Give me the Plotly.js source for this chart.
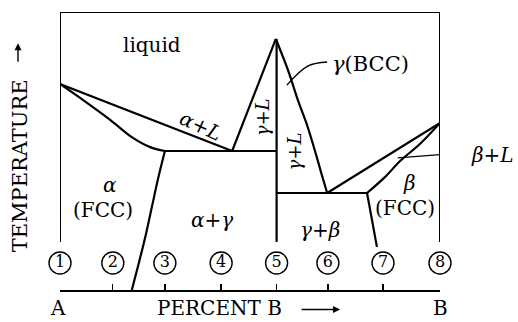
<!DOCTYPE html>
<html>
<head>
<meta charset="utf-8">
<script src="https://cdn.plot.ly/plotly-3.0.1.min.js"></script>
<style>
  html, body { margin: 0; padding: 0; background: #fff; }
  #phase { width: 518px; height: 322px; }
</style>
</head>
<body>
<div id="phase"></div>
<script>
// composition in % B, temperature in arbitrary units (0 = bottom axis, 100 = top of frame)

// frame of the diagram
var frameX = [0, 0, 100, 100];
var frameT = [17.3, 100, 100, 17.3];

// A-rich side: alpha liquidus, solidus, solvus
var liqAX = [0, 45.3];
var liqAT = [74.1, 50];
var solAX = [0, 6.1, 13.2, 19.2, 23.7, 27.6];
var solAT = [74.1, 68.3, 61.2, 54.7, 51.4, 50];
var solvAX = [27.6, 25.8, 24.2, 22.6, 20.8, 18.9];
var solvAT = [50, 40, 30, 20, 10, 0];
var periX = [27.6, 57];
var periT = [50, 50];

// gamma (intermediate compound)
var liqGLX = [45.3, 56.8];
var liqGLT = [50, 90.3];
var gammaX = [57, 57];
var gammaT = [90.3, 17.3];
var liqGRX = [56.8, 60.0, 62.6, 65.0, 67.4, 68.9, 70.3];
var liqGRT = [90.3, 79.1, 68.3, 59.4, 48.6, 41.4, 34.9];
var eutX = [57, 80.8];
var eutT = [34.9, 34.9];

// B-rich side: beta liquidus, solidus, solvus
var liqBX = [70.3, 100];
var liqBT = [34.9, 60.1];
var solBX = [80.8, 85.5, 89.5, 94.7, 100];
var solBT = [34.9, 40.6, 46.4, 52.5, 60.1];
var solvBX = [80.8, 82.1, 83.4];
var solvBT = [34.9, 25.2, 15.5];

// leader lines for the labels
var leadGX = [70.3, 65.3, 59.7];
var leadGT = [82.0, 80.6, 73.7];
var leadBX = [88.9, 105.8];
var leadBT = [47.5, 49.3];

// alloy positions 1..8
var alloyX = [0, 13.9, 27.6, 42.4, 57, 70.5, 85, 100];
var alloyNum = ['1', '2', '3', '4', '5', '6', '7', '8'];
var alloyT = 9.7;

function line(x, y, w, shape) {
    return {x: x, y: y, type: 'scatter', mode: 'lines', cliponaxis: false,
            line: {color: '#000', width: w || 2.2, shape: shape || 'linear'}, hoverinfo: 'skip'};
}

var data = [
    line(frameX, frameT, 2),
    line(liqAX, liqAT),
    line(solAX, solAT, 2.2, 'spline'),
    line(solvAX, solvAT, 2.2, 'spline'),
    line(periX, periT),
    line(liqGLX, liqGLT),
    line(gammaX, gammaT),
    line(liqGRX, liqGRT, 2.2, 'spline'),
    line(eutX, eutT),
    line(liqBX, liqBT),
    line(solBX, solBT, 2.2, 'spline'),
    line(solvBX, solvBT),
    line(leadGX, leadGT, 1.4, 'spline'),
    line(leadBX, leadBT, 1.2),
    {x: alloyX, y: alloyX.map(function () { return alloyT; }), text: alloyNum,
     type: 'scatter', mode: 'markers+text', cliponaxis: false,
     marker: {symbol: 'circle-open', size: 22, color: '#000', line: {width: 1.4}},
     textposition: 'middle center',
     textfont: {family: 'DejaVu Serif', size: 16, color: '#000'}}
];

function font(size) {
    return {family: 'DejaVu Serif', size: size || 20, color: '#000'};
}
// x in % B, y in temperature units; both ranges are 0..100 so paper = value / 100
function lab(x, y, text, extra) {
    var a = {x: x / 100, y: y / 100, xref: 'paper', yref: 'paper', text: text,
             xanchor: 'center', yanchor: 'middle', showarrow: false, font: font()};
    for (var k in extra) a[k] = extra[k];
    return a;
}
function arrow(x, y, ax, ay) {
    return {x: x / 100, y: y / 100, xref: 'paper', yref: 'paper', ax: ax, ay: ay, text: '',
            xanchor: 'center', yanchor: 'middle',
            showarrow: true, arrowhead: 2, arrowsize: 1, arrowwidth: 1.4, arrowcolor: '#000'};
}

var layout = {
    width: 518,
    height: 322,
    margin: {l: 60, r: 78, t: 12, b: 32},
    paper_bgcolor: '#fff',
    plot_bgcolor: '#fff',
    showlegend: false,
    xaxis: {
        range: [0, 100],
        showgrid: false, zeroline: false,
        showline: true, linecolor: '#000', linewidth: 1.6,
        ticks: 'inside', ticklen: 6, tickwidth: 1.3, tickcolor: '#000',
        tickvals: alloyX, showticklabels: false, fixedrange: true
    },
    yaxis: {range: [0, 100], visible: false, fixedrange: true},
    annotations: [
        lab(24.2, 88.1, 'liquid'),
        lab(37.1, 59.0, '<i>α</i>+<i>L</i>', {textangle: 25}),
        lab(13.2, 37.8, '<i>α</i>'),
        lab(11.3, 28.8, '(FCC)'),
        lab(40, 25.2, '<i>α</i>+<i>γ</i>'),
        lab(53.2, 62.2, '<i>γ</i>+<i>L</i>', {textangle: -90, font: font(18)}),
        lab(61.7, 50.0, '<i>γ</i>+<i>L</i>', {textangle: -90, font: font(18)}),
        lab(71.0, 81.3, '<i>γ</i>(BCC)', {xanchor: 'left', font: font(21)}),
        lab(92.1, 38.5, '<i>β</i>'),
        lab(90.8, 29.5, '(FCC)'),
        lab(68.4, 21.6, '<i>γ</i>+<i>β</i>'),
        lab(107.6, 48.6, '<i>β</i>+<i>L</i>', {xanchor: 'left'}),
        lab(-0.5, -11.4, 'A', {yanchor: 'bottom'}),
        lab(100, -11.4, 'B', {yanchor: 'bottom'}),
        lab(42.1, -11.4, 'PERCENT B', {yanchor: 'bottom'}),
        lab(-10.3, 44.8, 'TEMPERATURE', {textangle: -90, font: font(21)}),
        arrow(73.7, -7.0, -40, 0),
        arrow(-11.05, 88.8, 0, 20)
    ]
};

Plotly.newPlot('phase', data, layout, {staticPlot: true});
</script>
</body>
</html>
